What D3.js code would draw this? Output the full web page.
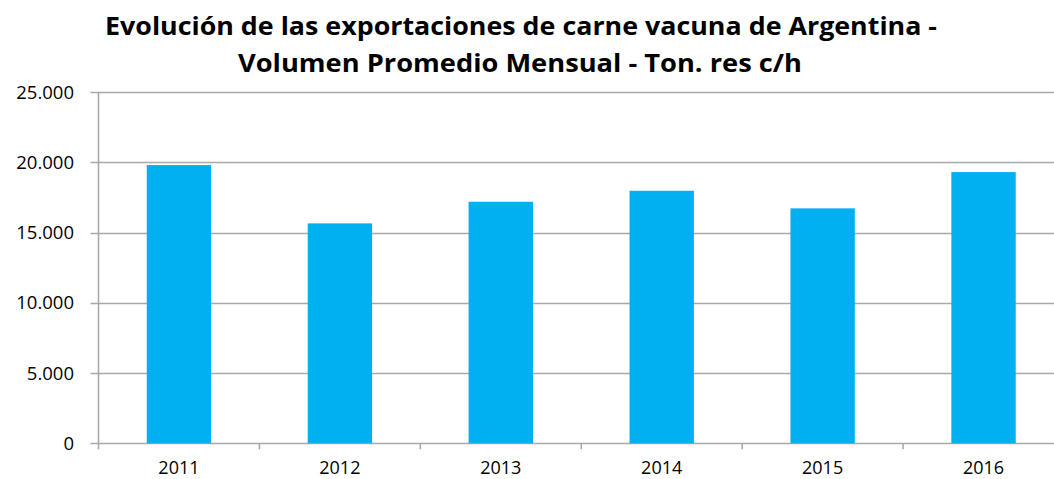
<!DOCTYPE html>
<html>
<head>
<meta charset="utf-8">
<script src="https://cdn.jsdelivr.net/npm/d3@7"></script>
<style>
  body { margin: 0; background: #fff; }
  text { font-family: "Open Sans", "Liberation Sans", sans-serif; fill: #000; }
</style>
</head>
<body>
<svg id="chart"></svg>
<script>
var width = 1054;
var height = 479;
var margin = {left: 98.5, right: -10, top: 92, bottom: 36};

// data
var years = ["2011", "2012", "2013", "2014", "2015", "2016"];
var volumes = [19800, 15650, 17190, 17970, 16720, 19300];
var yTicks = [0, 5000, 10000, 15000, 20000, 25000];
var titleLines = [
    "Evolución de las exportaciones de carne vacuna de Argentina -",
    "Volumen Promedio Mensual - Ton. res c/h"
];

var fmt = function (d) {
    return d3.format(",")(d).replace(/,/g, ".");
};

var svg = d3.select("#chart").attr("width", width).attr("height", height);

var x = d3.scaleBand()
    .domain(years)
    .range([margin.left, width - margin.right])
    .paddingInner(0.6)
    .paddingOuter(0.3);

var y = d3.scaleLinear()
    .domain([0, 25000])
    .range([443.3, margin.top]);

// gridlines
svg.append("g")
    .selectAll("line")
    .data(yTicks)
    .enter()
    .append("line")
    .attr("x1", margin.left - 8)
    .attr("x2", width)
    .attr("y1", function (d) { return Math.round(y(d)) + 0.5; })
    .attr("y2", function (d) { return Math.round(y(d)) + 0.5; })
    .attr("stroke", "#a9a9a9")
    .attr("stroke-width", 1.3);

// y labels
svg.append("g")
    .selectAll("text")
    .data(yTicks)
    .enter()
    .append("text")
    .attr("x", 74)
    .attr("y", function (d) { return y(d) + 6.5; })
    .attr("text-anchor", "end")
    .style("font-size", "18.5px")
    .text(fmt);

// bars
svg.append("g")
    .selectAll("rect")
    .data(volumes)
    .enter()
    .append("rect")
    .attr("x", function (d, i) { return x(years[i]); })
    .attr("width", x.bandwidth())
    .attr("y", function (d) { return y(d); })
    .attr("height", function (d) { return y(0) - y(d); })
    .attr("fill", "#00b0f0");

// axes lines
svg.append("line")
    .attr("x1", margin.left).attr("x2", margin.left)
    .attr("y1", y(25000)).attr("y2", y(0) + 6)
    .attr("stroke", "#a6a6a6").attr("stroke-width", 1.5);

var bounds = years.map(function (d) { return x(d) - x.step() * x.paddingInner() / 2; }).slice(1);
svg.append("g")
    .selectAll("line")
    .data(bounds)
    .enter()
    .append("line")
    .attr("x1", function (d) { return d; })
    .attr("x2", function (d) { return d; })
    .attr("y1", y(0))
    .attr("y2", y(0) + 6)
    .attr("stroke", "#a6a6a6")
    .attr("stroke-width", 1.5);

// x labels
svg.append("g")
    .selectAll("text")
    .data(years)
    .enter()
    .append("text")
    .attr("x", function (d) { return x(d) + x.bandwidth() / 2; })
    .attr("y", 474)
    .attr("text-anchor", "middle")
    .style("font-size", "18px")
    .text(function (d) { return d; });

// title
svg.append("text")
    .attr("x", 105)
    .attr("y", 35)
    .attr("textLength", 832)
    .attr("lengthAdjust", "spacingAndGlyphs")
    .style("font-size", "25px")
    .style("font-weight", "bold")
    .text(titleLines[0]);

svg.append("text")
    .attr("x", 238)
    .attr("y", 72)
    .attr("textLength", 564)
    .attr("lengthAdjust", "spacingAndGlyphs")
    .style("font-size", "25px")
    .style("font-weight", "bold")
    .text(titleLines[1]);
</script>
</body>
</html>
